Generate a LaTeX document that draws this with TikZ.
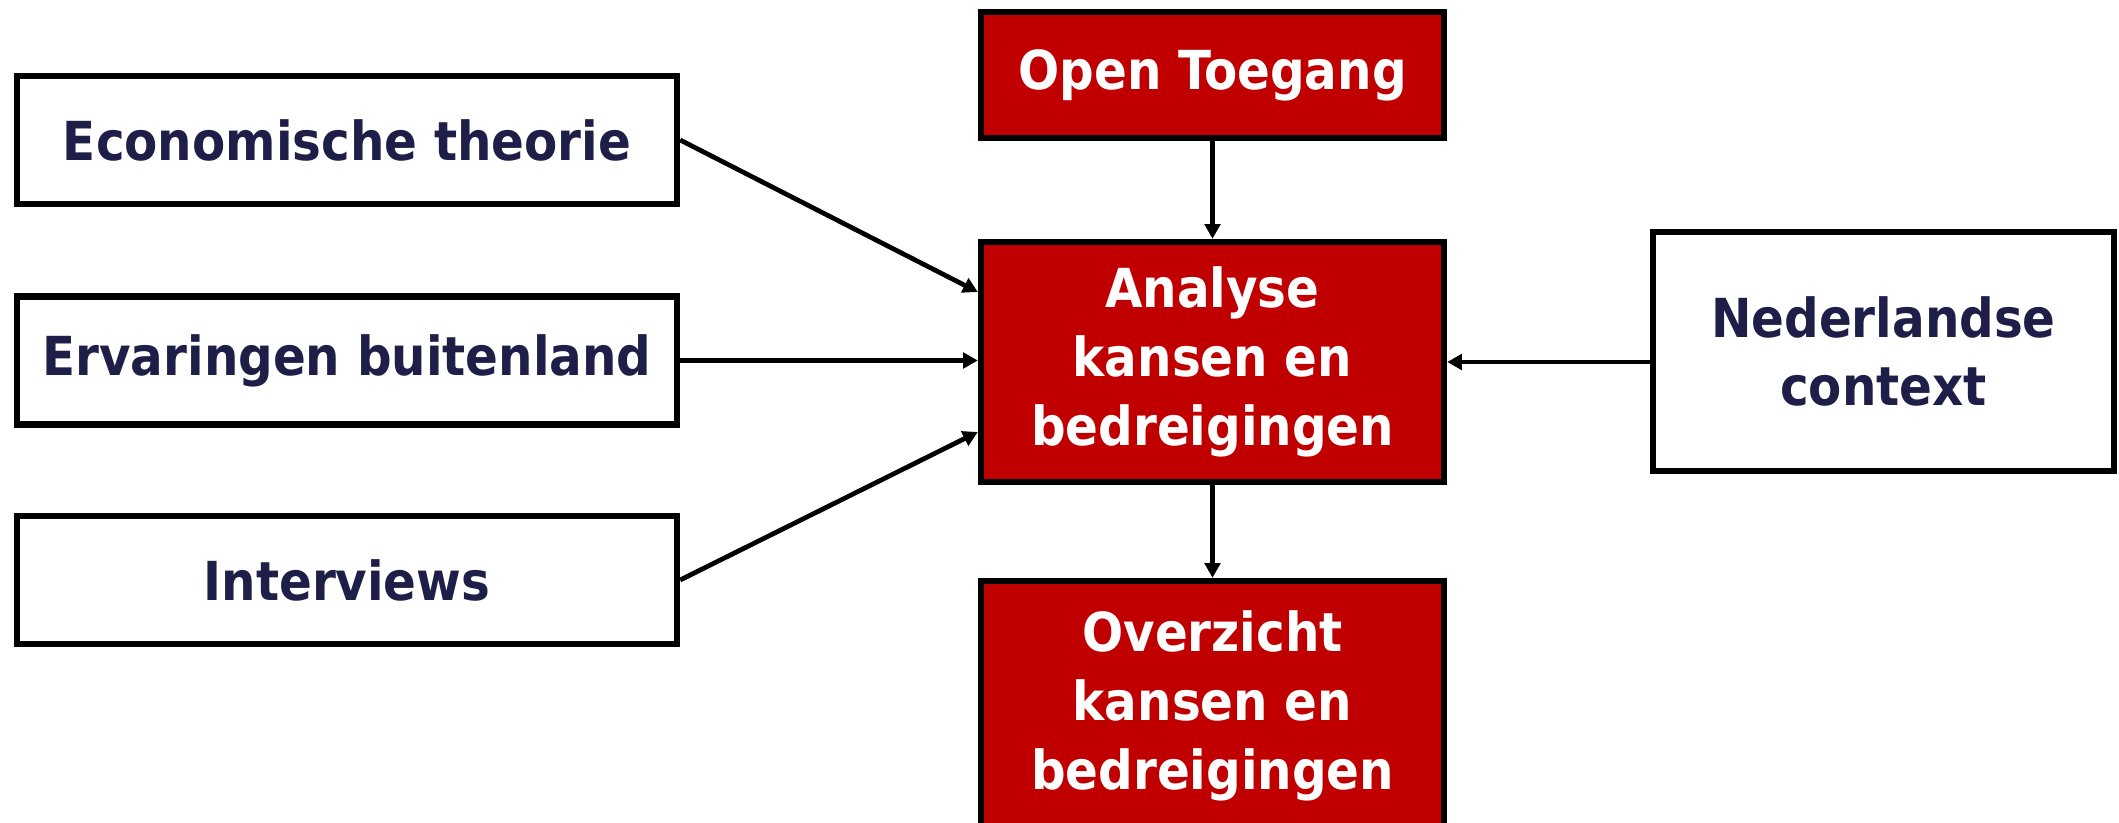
\documentclass[tikz,border=0pt]{standalone}
\usepackage{fontspec}
\setmainfont{DejaVu Sans Condensed}[BoldFont={DejaVu Sans Condensed Bold}]
\usetikzlibrary{arrows.meta}
\definecolor{boxred}{RGB}{192,0,0}
\definecolor{navy}{RGB}{30,30,72}
\tikzset{
  basebox/.style={draw=black, line width=1.8pt, rectangle, inner sep=0pt,
    align=center, font=\fontsize{15.3}{19.6}\selectfont\bfseries},
  inbox/.style={basebox, fill=white, text=navy, minimum width=6.60cm, minimum height=1.28cm},
  redbox/.style={basebox, fill=boxred, text=white, minimum width=4.63cm},
  flow/.style={draw=black, line width=1.35pt, -{Triangle[length=4.2pt,width=4.4pt]}}
}
\begin{document}
\begin{tikzpicture}
\useasboundingbox (0,0) rectangle (21.19,-8.23);
% input boxes on the left
\node[inbox] (econ) at (3.47,-1.40) {Economische theorie};
\node[inbox] (erv)  at (3.47,-3.605) {Ervaringen buitenland};
\node[inbox] (intv) at (3.47,-5.80) {Interviews};
% central column
\node[redbox, minimum height=1.26cm] (open) at (12.125,-0.75) {Open Toegang};
\node[redbox, minimum height=2.40cm] (ana) at (12.125,-3.62) {Analyse\\kansen en\\bedreigingen};
\node[redbox, minimum height=2.50cm] (over) at (12.125,-7.06) {Overzicht\\kansen en\\bedreigingen};
% context box on the right
\node[basebox, fill=white, text=navy, minimum width=4.61cm, minimum height=2.39cm] (ned) at (18.835,-3.515) {Nederlandse\\context};
% connectors
\draw[flow] (econ.east) -- ([yshift=0.70cm]ana.west);
\draw[flow] (erv.east) -- (erv.east -| ana.west);
\draw[flow] (intv.east) -- ([yshift=-0.70cm]ana.west);
\draw[flow] (open.south) -- (ana.north);
\draw[flow] (ana.south) -- (over.north);
\draw[flow] (ana.east -| ned.west) -- (ana.east);
\end{tikzpicture}
\end{document}
